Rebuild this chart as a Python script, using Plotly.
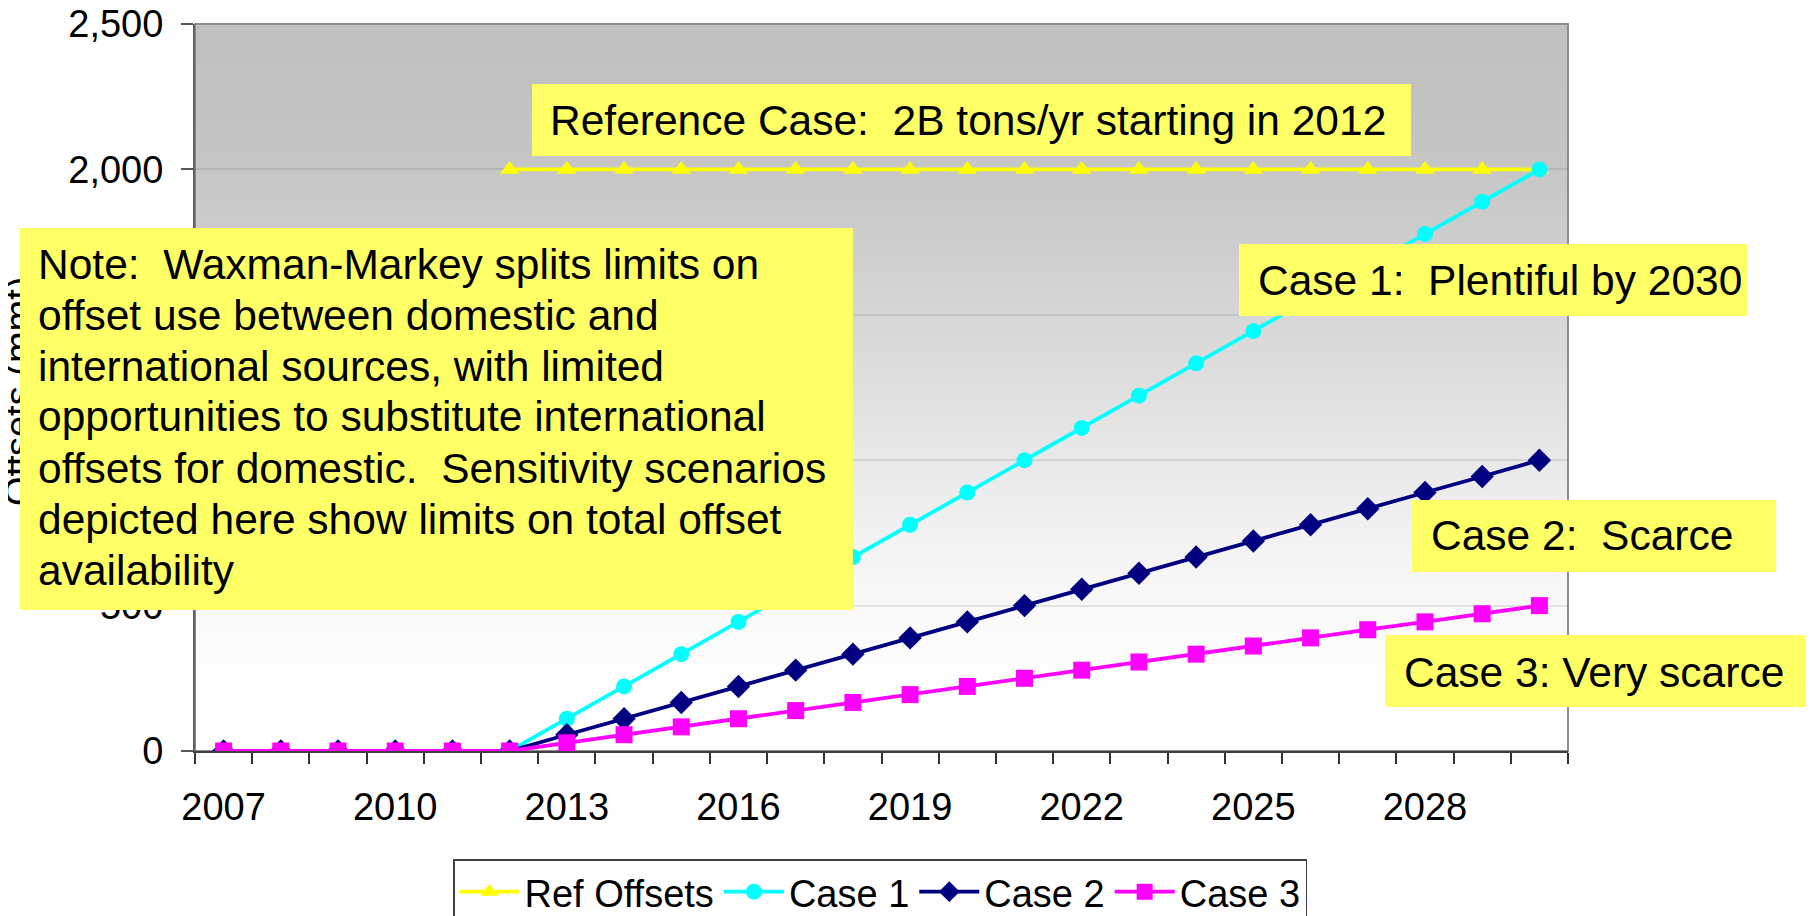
import plotly.graph_objects as go

# offsets (million metric tons) by year
years = [2007, 2008, 2009, 2010, 2011, 2012, 2013, 2014, 2015, 2016, 2017, 2018,
         2019, 2020, 2021, 2022, 2023, 2024, 2025, 2026, 2027, 2028, 2029, 2030]
ref_offsets = [None, None, None, None, None, 2000, 2000, 2000, 2000, 2000, 2000, 2000,
               2000, 2000, 2000, 2000, 2000, 2000, 2000, 2000, 2000, 2000, 2000, 2000]
case_1 = [0, 0, 0, 0, 0, 0, 111, 222, 333, 444, 556, 667,
          778, 889, 1000, 1111, 1222, 1333, 1444, 1556, 1667, 1778, 1889, 2000]
case_2 = [0, 0, 0, 0, 0, 0, 56, 111, 167, 222, 278, 333,
          389, 444, 500, 556, 611, 667, 722, 778, 833, 889, 944, 1000]
case_3 = [0, 0, 0, 0, 0, 0, 28, 56, 83, 111, 139, 167,
          194, 222, 250, 278, 306, 333, 361, 389, 417, 444, 472, 500]

tick_years = [2007, 2010, 2013, 2016, 2019, 2022, 2025, 2028]
y_ticks = [0, 500, 1000, 1500, 2000, 2500]

note_lines = [
    'Note:\u00a0 Waxman-Markey splits limits on',
    'offset use between domestic and',
    'international sources, with limited',
    'opportunities to substitute international',
    'offsets for domestic.\u00a0 Sensitivity scenarios',
    'depicted here show limits on total offset',
    'availability',
]

FONT = 'Liberation Sans, Arial, sans-serif'
BOX_COLOR = '#FFFF66'

# the page puts the figure 8px in from the top-left corner
PAGE_OFF = 8
FIG_W, FIG_H = 1814 - PAGE_OFF, 916 - PAGE_OFF

# plot area in page pixels
L, R, T, B = 195, 1568, 24, 751


def px(x):
    return (x - L) / (R - L)


def py(y):
    return (B - y) / (B - T)


fig = go.Figure()

fig.add_trace(go.Scatter(
    x=years, y=ref_offsets, name='Ref Offsets', mode='lines+markers',
    line=dict(color='#FFFF00', width=3.8),
    marker=dict(symbol='triangle-up', size=17, color='#FFFF00'),
))
fig.add_trace(go.Scatter(
    x=years, y=case_1, name='Case 1', mode='lines+markers',
    line=dict(color='#00FFFF', width=3.8),
    marker=dict(symbol='circle', size=16, color='#00FFFF'),
))
fig.add_trace(go.Scatter(
    x=years, y=case_2, name='Case 2', mode='lines+markers',
    line=dict(color='#000080', width=3.8),
    marker=dict(symbol='diamond', size=18, color='#000080'),
))
fig.add_trace(go.Scatter(
    x=years, y=case_3, name='Case 3', mode='lines+markers',
    line=dict(color='#FF00FF', width=3.8),
    marker=dict(symbol='square', size=17, color='#FF00FF'),
))

# grey-to-white gradient behind the plot
shapes = []
n_bands = 90
for i in range(n_bands):
    t = (i + 0.5) / n_bands
    s = 3 * t * t - 2 * t ** 3
    c = round(192 + 63 * s)
    shapes.append(dict(
        type='rect', xref='paper', yref='paper', layer='below',
        x0=0, x1=1, y0=1 - (i + 1) / n_bands - 0.002, y1=1 - i / n_bands,
        fillcolor=f'rgb({c},{c},{c})', line=dict(width=0),
    ))
shapes.append(dict(
    type='rect', xref='paper', yref='paper', layer='below',
    x0=0, x1=1, y0=0, y1=1, line=dict(color='#8c8c8c', width=2),
))

annotations = [dict(
    text='Offsets (mmt)', textangle=-90, xref='paper', yref='paper',
    x=px(19), y=py(391), xanchor='center', yanchor='middle', showarrow=False,
    font=dict(family=FONT, size=38, color='black'),
)]


def box(x0, y0, x1, y1):
    return dict(
        text=' ', xref='paper', yref='paper', x=px(x0), y=py(y0),
        xanchor='left', yanchor='top', width=x1 - x0, height=y1 - y0,
        bgcolor=BOX_COLOR, borderpad=0, borderwidth=0, showarrow=False,
    )


def label(text, x, y):
    return dict(
        text=text, xref='paper', yref='paper', x=px(x), y=py(y),
        xanchor='left', yanchor='middle', align='left', borderpad=0,
        showarrow=False, font=dict(family=FONT, size=42.5, color='black'),
    )


annotations.append(box(20, 228, 853, 610))
for k, line in enumerate(note_lines):
    annotations.append(label(line, 37, 264 + 51 * k))

annotations.append(box(532, 84, 1411, 156))
annotations.append(label('Reference Case:\u00a0 2B tons/yr starting in 2012', 549, 120))
annotations.append(box(1239, 244, 1747, 316))
annotations.append(label('Case 1:\u00a0 Plentiful by 2030', 1257, 280))
annotations.append(box(1412, 500, 1776, 572))
annotations.append(label('Case 2:\u00a0 Scarce', 1430, 535))
annotations.append(box(1385, 635, 1812, 707))
annotations.append(label('Case 3: Very scarce', 1403, 672))

fig.update_layout(
    width=FIG_W, height=FIG_H,
    margin=dict(l=L - PAGE_OFF, r=FIG_W - (R - PAGE_OFF), t=T - PAGE_OFF,
                b=FIG_H - (B - PAGE_OFF), autoexpand=False),
    paper_bgcolor='white', plot_bgcolor='white',
    font=dict(family=FONT, size=38, color='black'),
    showlegend=True,
    legend=dict(
        orientation='h', x=px(880), y=py(859), xanchor='center', yanchor='top',
        bordercolor='#404040', borderwidth=1.5, bgcolor='white',
        itemwidth=60,
        font=dict(family=FONT, size=38, color='black'),
    ),
    shapes=shapes,
    annotations=annotations,
)

fig.update_xaxes(
    range=[2006.5, 2030.5], tickmode='array', tickvals=tick_years,
    ticks='', showgrid=False, zeroline=False, automargin=False,
    showline=True, linecolor='#404040', linewidth=2,
    ticklabelstandoff=21, ticklabeloverflow='allow',
    tickfont=dict(family=FONT, size=38, color='black'),
    minor=dict(tickmode='linear', tick0=2006.5, dtick=1, ticks='outside',
               ticklen=11, tickwidth=1.5, tickcolor='#333333', showgrid=False),
)
fig.update_yaxes(
    range=[0, 2500], tickmode='array', tickvals=y_ticks, tickformat=',',
    ticks='outside', ticklen=12, tickwidth=1.5, tickcolor='#555555',
    showgrid=True, gridcolor='rgba(0,0,0,0.09)', gridwidth=1.5,
    zeroline=False, automargin=False,
    showline=True, linecolor='#606060', linewidth=2,
    ticklabelstandoff=10, ticklabeloverflow='allow',
    tickfont=dict(family=FONT, size=38, color='black'),
)

fig.write_html('out.html')
